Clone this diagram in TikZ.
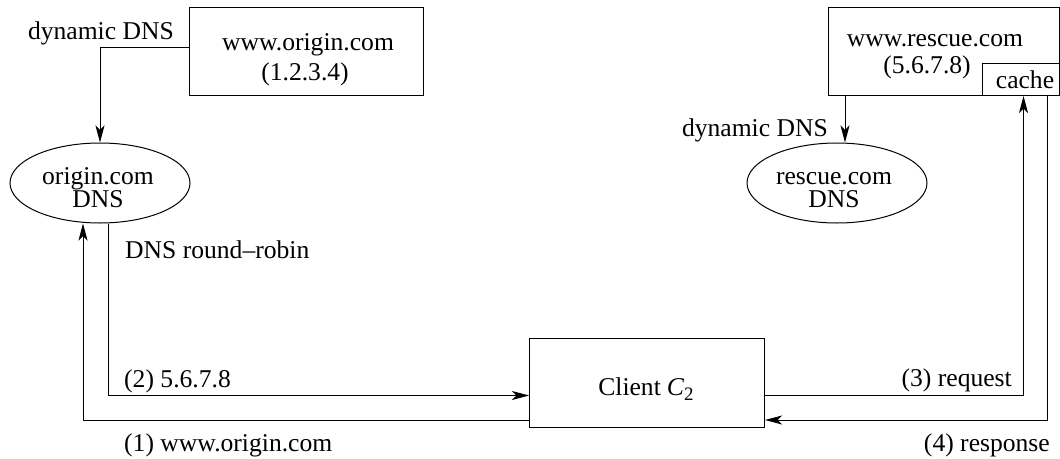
\documentclass[tikz,border=0pt]{standalone}
\usepackage{fontspec}
\setmainfont{Liberation Serif}
\usetikzlibrary{arrows.meta,shapes.geometric}

\tikzset{
  every picture/.style={x=1pt,y=-1pt},
  boxnode/.style={draw,line width=1pt,rectangle,inner sep=0pt,anchor=north west},
  ellnode/.style={draw,line width=1pt,ellipse,inner sep=0pt,minimum width=180pt,minimum height=80pt},
  lbl/.style={inner sep=0pt,font=\fontsize{25.6}{26}\selectfont},
  dnstext/.style={inner sep=0pt,align=center,font=\fontsize{25.6}{23}\selectfont},
  link/.style={line width=1pt,-{Stealth[length=17pt,width=9pt,inset=4.5pt]}}
}

\begin{document}
\begin{tikzpicture}
\useasboundingbox (0,0) rectangle (1060,458);

% servers
\node[boxnode,minimum width=234pt,minimum height=88pt] (obox) at (189,7) {};
\node[lbl,anchor=base] (obox1) at (308,50) {www.origin.com};
\node[lbl,anchor=base] (obox2) at (305,80) {(1.2.3.4)};

\node[boxnode,minimum width=231pt,minimum height=88pt] (rbox) at (828,7) {};
\node[lbl,anchor=base] (rbox1) at (935,46) {www.rescue.com};
\node[lbl,anchor=base] (rbox2) at (927,73) {(5.6.7.8)};
\node[boxnode,fill=white,minimum width=77pt,minimum height=32pt] (cache) at (982,63) {};
\node[lbl,anchor=base] (cachetxt) at (1025,88) {cache};

% name servers
\node[ellnode] (odns) at (100,183) {};
\node[dnstext] (odnstxt) at (98,188) {origin.com\\DNS};

\node[ellnode] (rdns) at (837,183) {};
\node[dnstext] (rdnstxt) at (834,190.5) {rescue.com\\DNS};

% client
\node[boxnode,minimum width=235pt,minimum height=89pt] (cl) at (529,338) {};
\node[lbl,anchor=base] (cltxt) at (646,395) {Client\hspace{6pt}\textit{C}\raisebox{-5pt}{\fontsize{19}{19}\selectfont 2}};

% dynamic DNS updates
\draw[link] ([yshift=4pt]obox.west) -| (odns.north);
\node[lbl,anchor=base east] (dynl) at (174,39) {dynamic DNS};
\draw[link] ([xshift=17pt]rbox.south west) -- ([xshift=8pt]rdns.north);
\node[lbl,anchor=base east] (dynr) at (828,136) {dynamic DNS};

% lookup and round-robin answer
\draw[link] ([yshift=8pt]cl.south west) -| ([xshift=-17pt]odns.south);
\draw[link] ([xshift=8pt]odns.south) |- ([yshift=-12.5pt]cl.west);
\node[lbl,anchor=base west] (rr) at (125,258) {DNS round\textendash robin};
\node[lbl,anchor=base west] (l2) at (124,387) {(2) 5.6.7.8};
\node[lbl,anchor=base west] (l1) at (124,451) {(1) www.origin.com};

% request and response via the cache
\draw[link] ([yshift=-12.5pt]cl.east) -| ([xshift=2.5pt]cache.south);
\draw[link] ([xshift=26.5pt]cache.south) |- ([yshift=8pt]cl.south east);
\node[lbl,anchor=base east] (l3) at (1012,386) {(3) request};
\node[lbl,anchor=base east] (l4) at (1050,451) {(4) response};
\end{tikzpicture}
\end{document}
